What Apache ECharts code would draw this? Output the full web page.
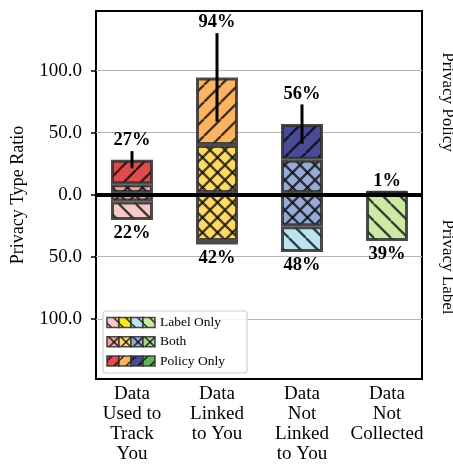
<!DOCTYPE html>
<html><head><meta charset="utf-8">
<script src="https://cdn.jsdelivr.net/npm/echarts@6/dist/echarts.min.js"></script>
<style>html,body{margin:0;padding:0;background:#fff}#c{width:453px;height:464px}</style>
</head><body><div id="c"></div>
<script>
// ---- data ----
const categories = ['Data\nUsed to\nTrack\nYou', 'Data\nLinked\nto You', 'Data\nNot\nLinked\nto You', 'Data\nNot\nCollected'];
const bothPolicy = [7, 39, 27, 0];        // "Both" stacked upward (privacy policy side)
const policyOnly = [20, 55, 29, 1];       // "Policy Only" upward
const bothLabel = [7, 39, 27, 0];         // "Both" downward (privacy label side)
const labelOnly = [15, 3, 21, 39];        // "Label Only" downward
const policyTotals = [27, 94, 56, 1];     // top labels (%)
const labelTotals = [22, 42, 48, 39];     // bottom labels (%)
const errHalf = [7, 36, 16, 0];           // whisker half-length on policy total
const yTicks = [-100, -50, 0, 50, 100];
const legendNames = ['Label Only', 'Both', 'Policy Only'];

// ---- styles ----
const policyColors = ['#DF4C50', '#FDB462', '#4A4A96', '#5DB552'];
const bothColors = ['#EEA3A3', '#FFD966', '#98ABD4', '#A8D88E'];
const labelColors = ['#F6C8C8', '#F7E826', '#BDE3EE', '#CBEAA5'];
const SERIF = '"Liberation Serif", "Times New Roman", serif';
const EDGE = 'rgba(45,45,45,0.85)';
const Y_MIN = -148.5, Y_MAX = 148;

function hatch(bg, type, size, lw) {
  const c = document.createElement('canvas');
  c.width = c.height = size;
  const g = c.getContext('2d');
  g.fillStyle = bg; g.fillRect(0, 0, size, size);
  g.strokeStyle = 'rgba(0,0,0,0.72)'; g.lineWidth = lw; g.lineCap = 'butt';
  const ln = (a, b, x, y) => { g.beginPath(); g.moveTo(a, b); g.lineTo(x, y); g.stroke(); };
  for (const o of [-size, 0, size]) {
    if (type === '/' || type === 'x') ln(o, size, o + size, 0);
    if (type === '\\' || type === 'x') ln(o, 0, o + size, size);
  }
  return { image: c, repeat: 'repeat' };
}

function barSeries(name, vals, sign, colors, type, stack) {
  return {
    name, type: 'bar', stack, barWidth: 42, barGap: '-100%', z: 3,
    xAxisIndex: 1, yAxisIndex: 1,
    data: vals.map((v, i) => ({
      value: sign * v,
      itemStyle: { color: hatch(colors[i], type, type === 'x' ? 15 : 17, 2.4) }
    })),
    itemStyle: { borderColor: EDGE, borderWidth: 3 }
  };
}

const chart = echarts.init(document.getElementById('c'), null, { renderer: 'canvas' });

const gfx = [{
  type: 'rect', shape: { x: 103, y: 311, width: 144, height: 62, r: 3 },
  style: { fill: 'rgba(255,255,255,0.85)', stroke: '#cfcfcf', lineWidth: 1.2 }, z: 20
}];
const rowSets = [[labelColors, '\\'], [bothColors, 'x'], [policyColors, '/']];
const rowY = [322.5, 341.7, 361];
rowSets.forEach((rs, r) => {
  for (let i = 0; i < 4; i++) {
    gfx.push({
      type: 'rect', shape: { x: 107 + 12 * i, y: rowY[r] - 5, width: 12, height: 10 },
      style: { fill: hatch(rs[0][i], rs[1], 12, 1.6), stroke: EDGE, lineWidth: 1.6 }, z: 21
    });
  }
  gfx.push({
    type: 'text', x: 160, y: rowY[r], z: 21,
    style: { text: legendNames[r], font: '13.5px ' + SERIF, fill: '#000', verticalAlign: 'middle' }
  });
});
gfx.push({
  type: 'text', x: 447, y: 102, rotation: -Math.PI / 2,
  style: { text: 'Privacy Policy', font: '17px ' + SERIF, fill: '#000', align: 'center', verticalAlign: 'middle' }
});
gfx.push({
  type: 'text', x: 447, y: 267, rotation: -Math.PI / 2,
  style: { text: 'Privacy Label', font: '17px ' + SERIF, fill: '#000', align: 'center', verticalAlign: 'middle' }
});

chart.setOption({
  animation: false,
  grid: [
    { left: 96, right: 31, top: 11, bottom: 85, show: true, borderColor: '#000', borderWidth: 2, backgroundColor: 'transparent' },
    { left: 89.5, right: 23.5, top: 11, bottom: 85, show: false }
  ],
  xAxis: [
    { type: 'value', gridIndex: 0, min: 0, max: 1, show: false },
    {
      type: 'category', gridIndex: 1, data: categories, boundaryGap: true,
      axisLine: { show: false }, splitLine: { show: false },
      axisTick: { show: true, length: 5, alignWithLabel: true, lineStyle: { color: '#000', width: 1.5 } },
      axisLabel: { margin: 8.5, interval: 0, fontFamily: SERIF, fontSize: 19, lineHeight: 20, color: '#000', align: 'center' }
    }
  ],
  yAxis: [
    {
      type: 'value', gridIndex: 0, min: Y_MIN, max: Y_MAX,
      name: 'Privacy Type Ratio', nameLocation: 'middle', nameGap: 69, nameRotate: 90,
      nameTextStyle: { fontFamily: SERIF, fontSize: 18, color: '#000' },
      axisLine: { show: false },
      axisTick: { show: true, length: 5, customValues: yTicks, lineStyle: { color: '#000', width: 1.5 } },
      axisLabel: { customValues: yTicks, margin: 14, formatter: v => Math.abs(v).toFixed(1), fontFamily: SERIF, fontSize: 19, color: '#000' },
      splitLine: { show: true, lineStyle: { color: '#b4b4b4', width: 1 } }
    },
    { type: 'value', gridIndex: 1, min: Y_MIN, max: Y_MAX, show: false, splitLine: { show: false } }
  ],
  graphic: gfx,
  series: [
    barSeries('Both (policy)', bothPolicy, 1, bothColors, 'x', 'up'),
    barSeries('Policy Only', policyOnly, 1, policyColors, '/', 'up'),
    barSeries('Both (label)', bothLabel, -1, bothColors, 'x', 'down'),
    barSeries('Label Only', labelOnly, -1, labelColors, '\\', 'down'),
    {
      type: 'line', xAxisIndex: 0, yAxisIndex: 0, data: [[0.5, 0]], showSymbol: false, symbol: 'none',
      lineStyle: { width: 0 }, z: 8, silent: true,
      markLine: { silent: true, symbol: 'none', label: { show: false }, lineStyle: { color: '#000', width: 4, type: 'solid' }, data: [{ yAxis: 0 }] }
    },
    {
      type: 'custom', xAxisIndex: 1, yAxisIndex: 1, z: 10, clip: false,
      data: policyTotals.map((t, i) => [i, t, errHalf[i], labelTotals[i]]),
      encode: { x: 0, y: 1 },
      renderItem: (params, api) => {
        const x = api.value(0), t = api.value(1), e = api.value(2), n = api.value(3);
        const top = api.coord([x, t + e]);
        const bot = api.coord([x, t - e]);
        const nb = api.coord([x, -n]);
        const children = [];
        if (e > 0) children.push({ type: 'line', shape: { x1: top[0], y1: top[1], x2: bot[0], y2: bot[1] }, style: { stroke: '#000', lineWidth: 3 } });
        children.push({ type: 'text', x: top[0], y: top[1] - 10.5, style: { text: t + '%', font: 'bold 18.5px ' + SERIF, fill: '#000', align: 'center', verticalAlign: 'middle' } });
        children.push({ type: 'text', x: nb[0], y: nb[1] + 13.5, style: { text: n + '%', font: 'bold 18.5px ' + SERIF, fill: '#000', align: 'center', verticalAlign: 'middle' } });
        return { type: 'group', children };
      }
    }
  ]
});
</script></body></html>
